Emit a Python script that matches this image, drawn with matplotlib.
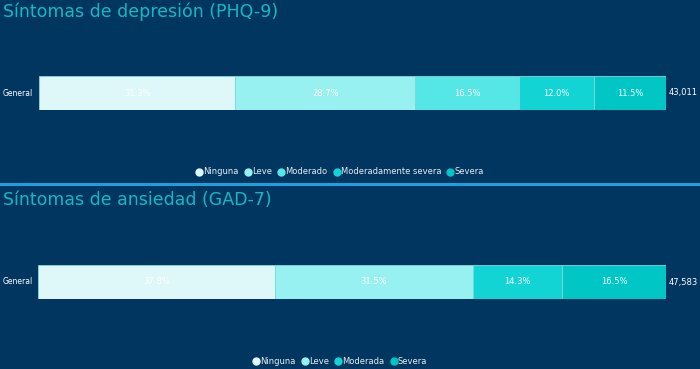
import matplotlib.pyplot as plt
from matplotlib.lines import Line2D

bg = '#003660'
title_col = '#17b8c4'

dep_cats = ['Ninguna', 'Leve', 'Moderado', 'Moderadamente severa', 'Severa']
dep_vals = [31.3, 28.7, 16.5, 12.0, 11.5]
dep_total = '43,011'

anx_cats = ['Ninguna', 'Leve', 'Moderada', 'Severa']
anx_vals = [37.8, 31.5, 14.3, 16.5]
anx_total = '47,583'

dep_colors = ['#def8f9', '#97f1f1', '#54e7e5', '#13d4d4', '#00c6c6']
anx_colors = ['#def8f9', '#97f1f1', '#13d4d4', '#00c6c6']

W, H = 700, 369
fig = plt.figure(figsize=(W / 100, H / 100), dpi=100)
fig.patch.set_facecolor(bg)


def px_axes(x0, y0, x1, y1):
    # pixel box (top-left origin) -> figure fraction
    return fig.add_axes([x0 / W, 1 - y1 / H, (x1 - x0) / W, (y1 - y0) / H])


def stacked(ax, vals, colors, total, y_mid):
    ax.set_facecolor(bg)
    left = 0
    for v, c in zip(vals, colors):
        ax.barh(0, v, left=left, height=1, color=c, edgecolor='#7fd8dc', linewidth=0.6)
        ax.text(left + v / 2, 0, f'{v:.1f}%', color='white', ha='center', va='center', fontsize=6)
        left += v
    ax.set_xlim(0, sum(vals))
    ax.set_ylim(-0.5, 0.5)
    ax.axis('off')
    fig.text(33 / W, 1 - y_mid / H, 'General', color='white',
             ha='right', va='center', fontsize=5.5)
    ax.text(1.004, 0, total, transform=ax.get_yaxis_transform(), color='white',
            ha='left', va='center', fontsize=6)


def legend(cats, colors, y):
    handles = [Line2D([], [], marker='o', linestyle='', markersize=5, markerfacecolor=c,
                      markeredgecolor=c) for c in colors]
    leg = fig.legend(handles, cats, loc='center', bbox_to_anchor=(0.485, 1 - y / H), ncol=len(cats),
                     frameon=False, fontsize=6, handletextpad=0.0, columnspacing=0.6,
                     handlelength=1.0)
    for t in leg.get_texts():
        t.set_color('#e8eef2')


fig.text(3 / W, 1 - 12 / H, 'Síntomas de depresión (PHQ-9)', color=title_col, fontsize=12.5,
         va='center', ha='left')
fig.text(3 / W, 1 - 200 / H, 'Síntomas de ansiedad (GAD-7)', color=title_col, fontsize=12.5,
         va='center', ha='left')

ax1 = px_axes(39, 76, 666, 110)
stacked(ax1, dep_vals, dep_colors, dep_total, 93)
ax2 = px_axes(38, 265, 666, 299)
stacked(ax2, anx_vals, anx_colors, anx_total, 282)

legend(dep_cats, dep_colors, 172)
legend(anx_cats, anx_colors, 361)

sep = px_axes(0, 183, 700, 186)
sep.set_facecolor('#1ba0dc')
sep.set_xticks([])
sep.set_yticks([])
for s in sep.spines.values():
    s.set_visible(False)

fig.savefig('out.png', dpi=100, facecolor=bg)
